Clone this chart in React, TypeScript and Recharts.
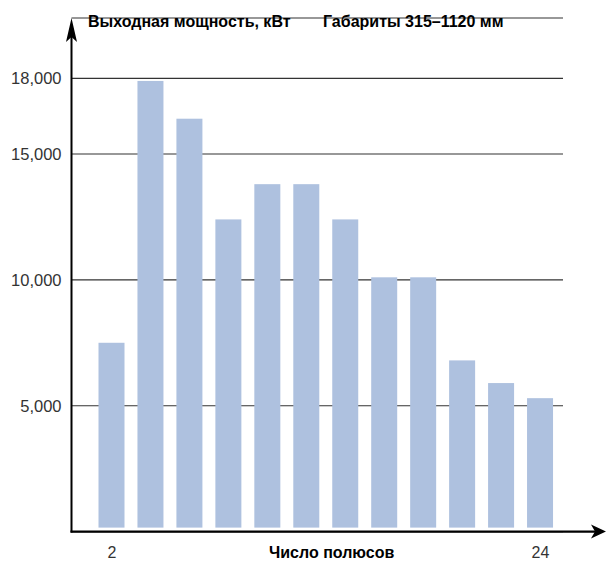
import React from "react";
import { BarChart, Bar, XAxis, YAxis, CartesianGrid } from "recharts";

const poles = ["2", "4", "6", "8", "10", "12", "14", "16", "18", "20", "22", "24"];
const power = [7500, 17900, 16400, 12400, 13800, 13800, 12400, 10100, 10100, 6800, 5900, 5300];
const yTicks = [5000, 10000, 15000, 18000];
const xTicks = ["2", "24"];

const data = poles.map((p, i) => ({ poles: p, power: power[i] }));

const W = 606;
const H = 561;
const margin = { top: 18, right: 43, bottom: 0, left: 0 };
const yAxisWidth = 71.5;
const xAxisHeight = 29.4;
const plotLeft = margin.left + yAxisWidth;
const plotBottom = H - margin.bottom - xAxisHeight;

const font = "'Liberation Sans', Arial, Helvetica, sans-serif";
const barColor = "#aec1df";

const BarShape = (p: any) => (
  <rect
    x={p.x}
    y={p.y}
    width={p.width}
    height={Math.max(0, p.height - 4)}
    fill={barColor}
  />
);

export default function App() {
  return (
    <div style={{ position: "absolute", left: 0, top: 0, width: W, height: H, background: "#fff" }}>
      <BarChart width={W} height={H} data={data} margin={margin} barSize={26}>
        <CartesianGrid
          horizontal
          vertical={false}
          stroke="#333"
          strokeWidth={1.1}
        />
        <XAxis
          dataKey="poles"
          height={xAxisHeight}
          ticks={xTicks}
          interval={0}
          axisLine={false}
          tickLine={false}
          tickMargin={9}
          padding={{ left: 21, right: 3 }}
          tick={{ fill: "#333", fontSize: 16, fontFamily: font }}
        />
        <YAxis
          width={yAxisWidth}
          domain={[0, 20400]}
          ticks={yTicks}
          axisLine={false}
          tickLine={false}
          tickMargin={4}
          tickFormatter={(v: number) => v.toLocaleString("en-US")}
          tick={{ fill: "#333", fontSize: 16.5, fontFamily: font }}
        />
        <Bar dataKey="power" shape={BarShape} isAnimationActive={false} />

        {/* axes with arrows */}
        <line x1={plotLeft} y1={plotBottom + 1} x2={plotLeft} y2={36} stroke="#000" strokeWidth={2} />
        <polygon
          points={`${plotLeft},18 ${plotLeft - 5.5},42 ${plotLeft},37 ${plotLeft + 5.5},42`}
          fill="#000"
        />
        <line x1={plotLeft - 1} y1={plotBottom} x2={598} y2={plotBottom} stroke="#000" strokeWidth={2.2} />
        <polygon
          points={`606,${plotBottom} 591,${plotBottom - 7} 595,${plotBottom} 591,${plotBottom + 7}`}
          fill="#000"
        />

        <text x={88} y={27} fontFamily={font} fontSize={16} fontWeight="bold" fill="#000">
          Выходная мощность, кВт
        </text>
        <text x={323} y={27} fontFamily={font} fontSize={16} fontWeight="bold" fill="#000">
          Габариты 315–1120 мм
        </text>
        <text x={269} y={558} fontFamily={font} fontSize={16} fontWeight="bold" fill="#000">
          Число полюсов
        </text>
      </BarChart>
    </div>
  );
}
